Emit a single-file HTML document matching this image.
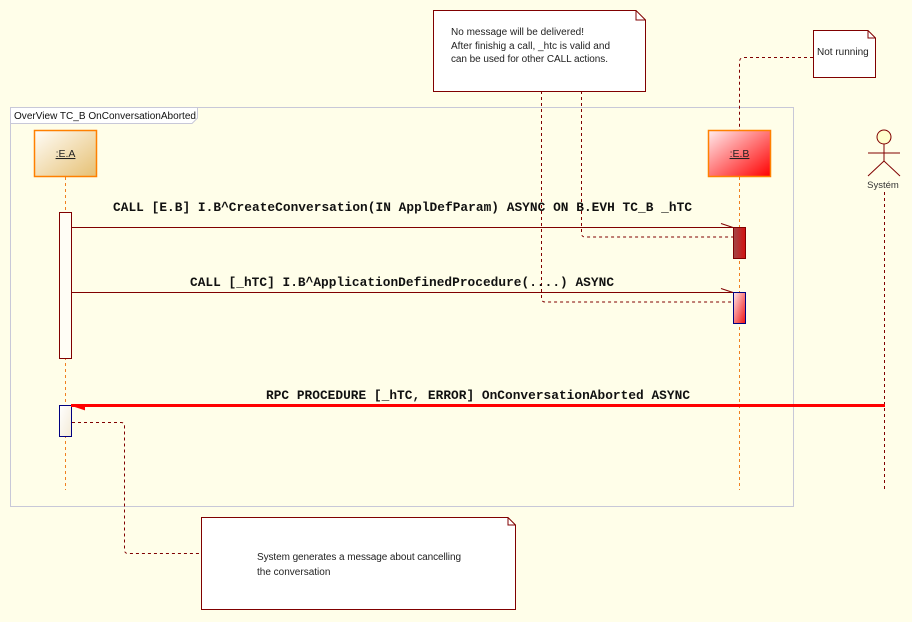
<!DOCTYPE html>
<html><head><meta charset="utf-8"><style>
html,body{margin:0;padding:0;background:#fffee9;}
svg{display:block;}
.m{font-family:"Liberation Mono",monospace;font-weight:bold;font-size:12.8px;fill:#111;}
.n{font-family:"Liberation Sans",sans-serif;font-size:10px;fill:#222;}
</style></head><body>
<svg width="912" height="622" viewBox="0 0 912 622" xmlns="http://www.w3.org/2000/svg">
<defs>
<linearGradient id="ga" x1="0" y1="0" x2="1" y2="1"><stop offset="0" stop-color="#fffdf8"/><stop offset="1" stop-color="#e6c073"/></linearGradient>
<linearGradient id="gb" x1="0" y1="0" x2="1" y2="1"><stop offset="0" stop-color="#ffecee"/><stop offset="1" stop-color="#ff0000"/></linearGradient>
<linearGradient id="gd" x1="0" y1="0" x2="1" y2="0"><stop offset="0" stop-color="#a04848"/><stop offset="1" stop-color="#d41010"/></linearGradient>
<linearGradient id="gp" x1="0" y1="0" x2="1" y2="1"><stop offset="0" stop-color="#ffe8ea"/><stop offset="1" stop-color="#f01010"/></linearGradient>
<linearGradient id="gw" x1="0" y1="0" x2="1" y2="1"><stop offset="0" stop-color="#ffffff"/><stop offset="1" stop-color="#f3ead6"/></linearGradient>
</defs>
<rect width="912" height="622" fill="#fffee9"/>
<rect x="10.5" y="107.5" width="783" height="399" fill="none" stroke="#c8c8d8"/>
<path d="M10.5 107.5 H197.5 V118 L192 123.5 H10.5 Z" fill="#fff" stroke="#c8c8d8"/>
<text x="14" y="119" font-family="Liberation Sans,sans-serif" font-size="10" textLength="182" lengthAdjust="spacingAndGlyphs" fill="#111">OverView TC_B OnConversationAborted</text>
<line x1="65.5" y1="177" x2="65.5" y2="490" stroke="#f08020" stroke-dasharray="3,3"/>
<line x1="739.5" y1="177" x2="739.5" y2="490" stroke="#f08020" stroke-dasharray="3,3"/>
<line x1="884.5" y1="192" x2="884.5" y2="490" stroke="#800000" stroke-dasharray="3,3"/>
<rect x="34.5" y="130.5" width="62" height="46" fill="url(#ga)" stroke="#ff8000" stroke-width="1.5"/>
<text x="65.5" y="157" text-anchor="middle" font-family="Liberation Sans,sans-serif" font-size="10.5" text-decoration="underline" fill="#222">:E.A</text>
<rect x="708.5" y="130.5" width="62" height="46" fill="url(#gb)" stroke="#ff8000" stroke-width="1.5"/>
<text x="739.5" y="157" text-anchor="middle" font-family="Liberation Sans,sans-serif" font-size="10.5" text-decoration="underline" fill="#222">:E.B</text>
<circle cx="884" cy="137" r="7" fill="#fffecc" stroke="#800000"/>
<line x1="884" y1="144" x2="884" y2="161" stroke="#800000"/>
<line x1="868" y1="153" x2="900" y2="153" stroke="#800000"/>
<line x1="884" y1="161" x2="868" y2="176" stroke="#800000"/>
<line x1="884" y1="161" x2="900" y2="176" stroke="#800000"/>
<text x="883" y="188" text-anchor="middle" font-family="Liberation Sans,sans-serif" font-size="9.5" fill="#333">Systém</text>
<path d="M581.5 91 V233 Q581.5 237 585 237 H733" fill="none" stroke="#800000" stroke-dasharray="3,3"/>
<path d="M541.5 91 V298 Q541.5 302 545 302 H733" fill="none" stroke="#800000" stroke-dasharray="3,3"/>
<path d="M813 57.5 H744 Q739.5 57.5 739.5 62 V130" fill="none" stroke="#800000" stroke-dasharray="3,3"/>
<path d="M72 422.5 H121 Q124.5 422.5 124.5 426 V550 Q124.5 553.5 128 553.5 H201" fill="none" stroke="#800000" stroke-dasharray="3,3"/>
<rect x="59.5" y="212.5" width="12" height="146" fill="#fffdf5" stroke="#800000"/>
<rect x="59.5" y="405.5" width="12" height="31" fill="url(#gw)" stroke="#000080"/>
<rect x="733.5" y="227.5" width="12" height="31" fill="url(#gd)" stroke="#800000"/>
<rect x="733.5" y="292.5" width="12" height="31" fill="url(#gp)" stroke="#000080"/>
<line x1="71" y1="227.5" x2="733" y2="227.5" stroke="#800000"/>
<line x1="721" y1="223.5" x2="733" y2="227.5" stroke="#800000"/>
<text x="113" y="211" class="m" textLength="579" lengthAdjust="spacing">CALL [E.B] I.B^CreateConversation(IN ApplDefParam) ASYNC ON B.EVH TC_B _hTC</text>
<line x1="71" y1="292.5" x2="733" y2="292.5" stroke="#800000"/>
<line x1="721" y1="288.5" x2="733" y2="292.5" stroke="#800000"/>
<text x="190" y="286" class="m" textLength="424" lengthAdjust="spacing">CALL [_hTC] I.B^ApplicationDefinedProcedure(....) ASYNC</text>
<line x1="71" y1="405.5" x2="885" y2="405.5" stroke="#ff0000" stroke-width="3"/>
<path d="M72 405 L84 409 L84 406 Z" fill="#ff0000" stroke="#ff0000" stroke-width="2"/>
<text x="266" y="399" class="m" textLength="424" lengthAdjust="spacing">RPC PROCEDURE [_hTC, ERROR] OnConversationAborted ASYNC</text>
<path d="M433.5 10.5 H636 L645.5 20 V91.5 H433.5 Z" fill="#fff" stroke="#800000"/>
<path d="M636 10.5 V20 H645.5" fill="none" stroke="#800000"/>
<text x="451" y="35" class="n" textLength="133" lengthAdjust="spacing">No message will be delivered!</text>
<text x="451" y="49" class="n" textLength="159" lengthAdjust="spacing">After finishig a call, _htc is valid and</text>
<text x="451" y="62" class="n" textLength="157" lengthAdjust="spacing">can be used for other CALL actions.</text>
<path d="M813.5 30.5 H868 L875.5 38 V77.5 H813.5 Z" fill="#fff" stroke="#800000"/>
<path d="M868 30.5 V38 H875.5" fill="none" stroke="#800000"/>
<text x="817" y="55" class="n">Not  running</text>
<path d="M201.5 517.5 H508 L515.5 525 V609.5 H201.5 Z" fill="#fff" stroke="#800000"/>
<path d="M508 517.5 V525 H515.5" fill="none" stroke="#800000"/>
<text x="257" y="560" class="n" textLength="204" lengthAdjust="spacing">System generates a message about cancelling</text>
<text x="257" y="575" class="n">the conversation</text>
</svg>
</body></html>
